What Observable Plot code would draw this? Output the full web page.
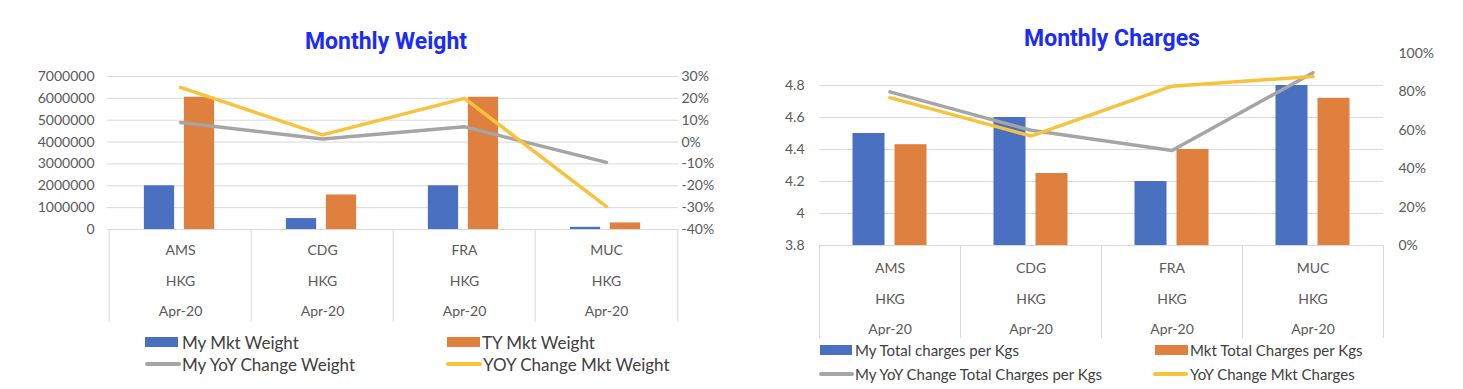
<!DOCTYPE html>
<html><head><meta charset="utf-8">
<script src="https://cdn.jsdelivr.net/npm/d3@7"></script>
<script src="https://cdn.jsdelivr.net/npm/@observablehq/plot@0.6"></script>
<style>
body{margin:0;background:#fff;font-family:Lato,"Open Sans",sans-serif;}
#root{position:relative;width:1463px;height:389px;overflow:hidden;background:#fff;}
.chart{position:absolute;}
.title{position:absolute;font-family:Roboto,"Liberation Sans",sans-serif;font-weight:700;font-size:23px;color:#1c2bf5;transform:translate(-50%,-50%);white-space:nowrap;}
.lg{position:absolute;color:#404040;white-space:nowrap;transform:translateY(-50%);font-family:Lato,sans-serif;}
.sw{position:absolute;}
</style></head><body><div id="root"></div>
<script>
// ---- data ----
const categories = ["AMS", "CDG", "FRA", "MUC"];
const origins = ["HKG", "HKG", "HKG", "HKG"];
const months = ["Apr-20", "Apr-20", "Apr-20", "Apr-20"];

// Monthly Weight
const myMktWeight = [2000000, 500000, 2000000, 100000];
const tyMktWeight = [6050000, 1580000, 6050000, 300000];
const myYoYChangeWeight = [0.09, 0.014, 0.07, -0.093];
const yoyChangeMktWeight = [0.25, 0.033, 0.20, -0.295];
const weightTicks = [0, 1000000, 2000000, 3000000, 4000000, 5000000, 6000000, 7000000];
const weightPctTicks = [-0.4, -0.3, -0.2, -0.1, 0, 0.1, 0.2, 0.3];

// Monthly Charges
const myTotalCharges = [4.5, 4.6, 4.2, 4.8];
const mktTotalCharges = [4.43, 4.25, 4.4, 4.72];
const myYoYChangeCharges = [0.80, 0.60, 0.495, 0.90];
const yoyChangeMktCharges = [0.77, 0.57, 0.83, 0.88];
const chargeTicks = [3.8, 4, 4.2, 4.4, 4.6, 4.8];
const chargePctTicks = [0, 0.2, 0.4, 0.6, 0.8, 1.0];

// ---- styles ----
const BLUE = "#4a70c2", ORANGE = "#e0803f", GRAY = "#a5a5a5", YELLOW = "#f7c33c", GRID = "#d9d9d9";

const root = document.getElementById("root");

function makeChart(cfg) {
  const rows = categories.map((c, i) => ({
    cat: c, a: cfg.barA[i], b: cfg.barB[i], la: cfg.lineA[i], lb: cfg.lineB[i]
  }));
  const bw = (cfg.width - cfg.marginLeft - cfg.marginRight) / categories.length;
  const inset = (bw - cfg.barWidth) / 2;
  const toLeft = cfg.toLeft;
  const svg = Plot.plot({
    width: cfg.width, height: cfg.height,
    marginLeft: cfg.marginLeft, marginRight: cfg.marginRight,
    marginTop: cfg.marginTop, marginBottom: cfg.marginBottom,
    style: {color: "#595959", fontFamily: "Lato, sans-serif", fontSize: "14px", background: "transparent", overflow: "visible"},
    x: {type: "band", domain: categories, padding: 0, axis: null},
    y: {domain: cfg.yDomain, axis: null},
    marks: [
      Plot.gridY(cfg.gridTicks, {stroke: GRID, strokeOpacity: 1}),
      Plot.axisY(cfg.leftTicks, {anchor: "left", tickSize: 0, tickPadding: cfg.padL, tickFormat: cfg.leftFormat, fontSize: 14, label: null}),
      Plot.axisY(cfg.pctTicks.map(toLeft), {anchor: "right", tickSize: 0, tickPadding: cfg.padR, fontSize: 14, label: null,
        tickFormat: (v, i) => Math.round(cfg.pctTicks[i] * 100) + "%"}),
      // category separators
      Plot.axisX(categories, {anchor: "bottom", tickSize: cfg.marginBottom, dx: -bw / 2, stroke: GRID, strokeOpacity: 1, tickFormat: () => "", label: null}),
      Plot.axisX([categories[categories.length - 1]], {anchor: "bottom", tickSize: cfg.marginBottom, dx: bw / 2, stroke: GRID, strokeOpacity: 1, tickFormat: () => "", label: null}),
      // category labels
      Plot.axisX(categories, {anchor: "bottom", tickSize: 0, tickPadding: cfg.labelPad, fontSize: 14, lineHeight: 2.18, label: null,
        tickFormat: d => { const i = categories.indexOf(d); return `${d}\n${origins[i]}\n${months[i]}`; }}),
      Plot.barY(rows, {x: "cat", y1: cfg.yDomain[0], y2: "a", fill: BLUE, insetLeft: inset, insetRight: inset, dx: cfg.dxA}),
      Plot.barY(rows, {x: "cat", y1: cfg.yDomain[0], y2: "b", fill: ORANGE, insetLeft: inset, insetRight: inset, dx: cfg.dxB}),
      Plot.lineY(rows, {x: "cat", y: d => toLeft(d.la), stroke: GRAY, strokeWidth: 3.5, strokeLinecap: "round", strokeLinejoin: "round"}),
      Plot.lineY(rows, {x: "cat", y: d => toLeft(d.lb), stroke: YELLOW, strokeWidth: 3.5, strokeLinecap: "round", strokeLinejoin: "round"})
    ]
  });
  const wrap = document.createElement("div");
  wrap.className = "chart";
  wrap.style.left = cfg.left + "px";
  wrap.style.top = cfg.top + "px";
  wrap.appendChild(svg);
  root.appendChild(wrap);
}

function addTitle(text, x, y) {
  const d = document.createElement("div");
  d.className = "title"; d.textContent = text;
  d.style.left = x + "px"; d.style.top = y + "px";
  root.appendChild(d);
}
function addLegend(items, fontSize) {
  for (const it of items) {
    const s = document.createElement("div");
    s.className = "sw";
    s.style.background = it.color;
    s.style.left = it.x + "px";
    s.style.width = it.w + "px";
    const h = it.kind === "bar" ? 10 : 3.5;
    s.style.height = h + "px";
    s.style.top = (it.y - h / 2) + "px";
    if (it.kind !== "bar") s.style.borderRadius = "2px";
    root.appendChild(s);
    const t = document.createElement("div");
    t.className = "lg"; t.textContent = it.label;
    t.style.left = it.tx + "px"; t.style.top = it.y + "px"; t.style.fontSize = fontSize + "px";
    root.appendChild(t);
  }
}

// Left: Monthly Weight
addTitle("Monthly Weight", 386, 41);
makeChart({
  left: 0, top: 60, width: 730, height: 262,
  marginLeft: 107, marginRight: 52, marginTop: 16, marginBottom: 93,
  yDomain: [0, 7000000],
  gridTicks: weightTicks, leftTicks: weightTicks, leftFormat: d3.format("d"),
  pctTicks: weightPctTicks, toLeft: p => (p + 0.4) * 1e7,
  padL: 13, padR: 3, labelPad: 4,
  barA: myMktWeight, barB: tyMktWeight, lineA: myYoYChangeWeight, lineB: yoyChangeMktWeight,
  barWidth: 31, dxA: -21, dxB: 19
});
addLegend([
  {kind: "bar", color: BLUE, x: 145, w: 33, y: 342, tx: 182, label: "My Mkt Weight"},
  {kind: "bar", color: ORANGE, x: 447, w: 33, y: 342, tx: 482, label: "TY Mkt Weight"},
  {kind: "line", color: GRAY, x: 145, w: 36, y: 364, tx: 182, label: "My YoY Change Weight"},
  {kind: "line", color: YELLOW, x: 446, w: 36, y: 364, tx: 483, label: "YOY Change Mkt Weight"}
], 17);

// Right: Monthly Charges
addTitle("Monthly Charges", 1112, 38);
makeChart({
  left: 730, top: 45, width: 733, height: 293,
  marginLeft: 89, marginRight: 80, marginTop: 8, marginBottom: 93,
  yDomain: [3.8, 5.0],
  gridTicks: chargeTicks, leftTicks: chargeTicks, leftFormat: d => String(+d.toFixed(1)),
  pctTicks: chargePctTicks, toLeft: p => 3.8 + p * 1.2,
  padL: 15, padR: 15, labelPad: 6,
  barA: myTotalCharges, barB: mktTotalCharges, lineA: myYoYChangeCharges, lineB: yoyChangeMktCharges,
  barWidth: 32, dxA: -21, dxB: 21
});
addLegend([
  {kind: "bar", color: BLUE, x: 820, w: 32, y: 350, tx: 855, label: "My Total charges per Kgs"},
  {kind: "bar", color: ORANGE, x: 1155, w: 33, y: 350, tx: 1190, label: "Mkt Total Charges per Kgs"},
  {kind: "line", color: GRAY, x: 819, w: 35, y: 374, tx: 855, label: "My YoY Change Total Charges per Kgs"},
  {kind: "line", color: YELLOW, x: 1153, w: 35, y: 374, tx: 1190, label: "YoY Change Mkt Charges"}
], 15);
</script></body></html>
